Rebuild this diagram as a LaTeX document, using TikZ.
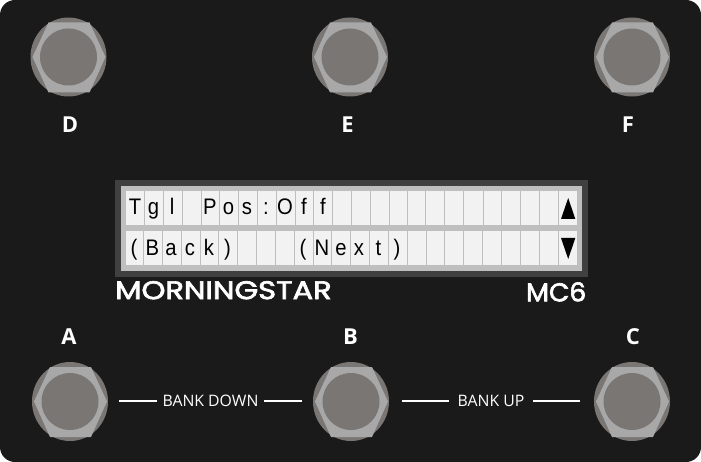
\documentclass[tikz,border=0pt]{standalone}
\usepackage{fontspec}
\setmainfont{Open Sans}
\newfontfamily\lcdfont[FakeStretch=0.9]{Liberation Sans}
\newfontfamily\logofont[FakeBold=2.5]{Poppins}
\definecolor{panel}{HTML}{1A1A1A}
\definecolor{swouter}{HTML}{7A7674}
\definecolor{swhex}{HTML}{A8A8A8}
\definecolor{lcdframe}{HTML}{404040}
\definecolor{lcdgrey}{HTML}{BFBFBF}
\definecolor{lcdcell}{HTML}{F2F2F2}
\tikzset{
  swlabel/.style={text=white,font=\fontsize{22}{22}\selectfont\bfseries,inner sep=0pt,anchor=base},
  lcdchar/.style={text=black,font=\fontsize{22.5}{22.5}\lcdfont,inner sep=0pt,anchor=base},
  bank/.style={text=white,font=\fontsize{15.8}{15.8}\selectfont,inner sep=0pt,anchor=base},
  bankline/.style={draw=white,line width=1.4pt},
  sep/.style={draw=lcdgrey,line width=0.8pt}
}
\newcommand{\footsw}[2]{%
  \fill[swouter] (#1,#2) ellipse [x radius=38,y radius=39.5];
  \fill[swhex] (#1-36,#2) -- (#1-20,#2-34.5) -- (#1+21,#2-34.5) -- (#1+37,#2) -- (#1+21,#2+35.5) -- (#1-20,#2+35.5) -- cycle;
  \fill[swouter] (#1,#2) circle [radius=28.5];
}
\begin{document}
\begin{tikzpicture}[x=1pt,y=-1pt]
\useasboundingbox (0,0) rectangle (701,462);
\fill[white] (0,0) rectangle (701,462);
\fill[panel,rounded corners=15pt] (0,0) rectangle (701,462);
\footsw{68.5}{57}
\footsw{350}{57}
\footsw{632}{57}
\footsw{70}{401.5}
\footsw{351}{401.5}
\footsw{632}{401.5}
\node[swlabel] (D) at (70,132.5) {D};
\node[swlabel] (E) at (347.5,132.5) {E};
\node[swlabel] (F) at (628,132.5) {F};
\node[swlabel] (A) at (69,344) {A};
\node[swlabel] (B) at (350.5,344) {B};
\node[swlabel] (C) at (633,344) {C};
% display
\fill[lcdframe] (115,180) rectangle (588,277);
\fill[lcdgrey] (121,186) rectangle (582,271);
\fill[lcdcell] (126,191) rectangle (577,225);
\fill[lcdcell] (126,231) rectangle (577,265);
\foreach \x in {144.3,163.3,182.3,201.3,219.3,238.3,257.3,276.3,295.3,313.3,332.3,351.3,370.3,389.3,407.3,425.3,444.3,463.3,501.3,520.3,539.3,558.3}
  \draw[sep] (\x,191) -- (\x,225);
\draw[sep,line width=1.4pt] (483.3,191) -- (483.3,225);
\foreach \x in {143.3,162.3,181.3,200.3,218.3,237.3,256.3,275.3,294.3,313.3,331.3,350.5,369.3,388.3,407.3,426.3,444.3,463.3,482.3,501.3,520.3,539.3,558.3}
  \draw[sep] (\x,231) -- (\x,265);
\foreach \c/\x/\n in {T/135/a,g/153.5/b,l/172/c,P/210/d,o/228.5/e,s/247/f,{:}/266/g,O/285/h,f/304/i,f/323/j}
  \node[lcdchar] (r1\n) at (\x,214.5) {\c};
\foreach \c/\x/\n in {{(}/134/a,B/152.5/b,a/171/c,c/190/d,k/209/e,{)}/227.5/f,{(}/303/g,N/322/h,e/341/i,x/359/j,t/378.5/k,{)}/397/l}
  \node[lcdchar] (r2\n) at (\x,256) {\c};
\fill[black] (568.2,198) -- (575.3,219) -- (561,219) -- cycle;
\fill[black] (568.2,259) -- (575.3,238) -- (561,238) -- cycle;
% logos
\node[anchor=south west,inner sep=0pt,text=white] (logo) at (115,299.5) {\resizebox{216.5pt}{18pt}{\logofont MORNINGSTAR}};
\node[anchor=south west,inner sep=0pt,text=white] (model) at (526,301.7) {\resizebox{60pt}{19pt}{\logofont MC6}};
% bank labels
\node[bank] (bd) at (210.5,406.5) {BANK DOWN};
\node[bank] (bu) at (491,406.5) {BANK UP};
\coordinate (bdl) at (119,401);
\coordinate (bdr) at (302,401);
\coordinate (bul) at (402,401);
\coordinate (bur) at (580,401);
\draw[bankline] (bdl) -- ([xshift=-5pt]bd.west |- bdl);
\draw[bankline] (bdr) -- ([xshift=5pt]bd.east |- bdr);
\draw[bankline] (bul) -- ([xshift=-8pt]bu.west |- bul);
\draw[bankline] (bur) -- ([xshift=8pt]bu.east |- bur);
\end{tikzpicture}
\end{document}
